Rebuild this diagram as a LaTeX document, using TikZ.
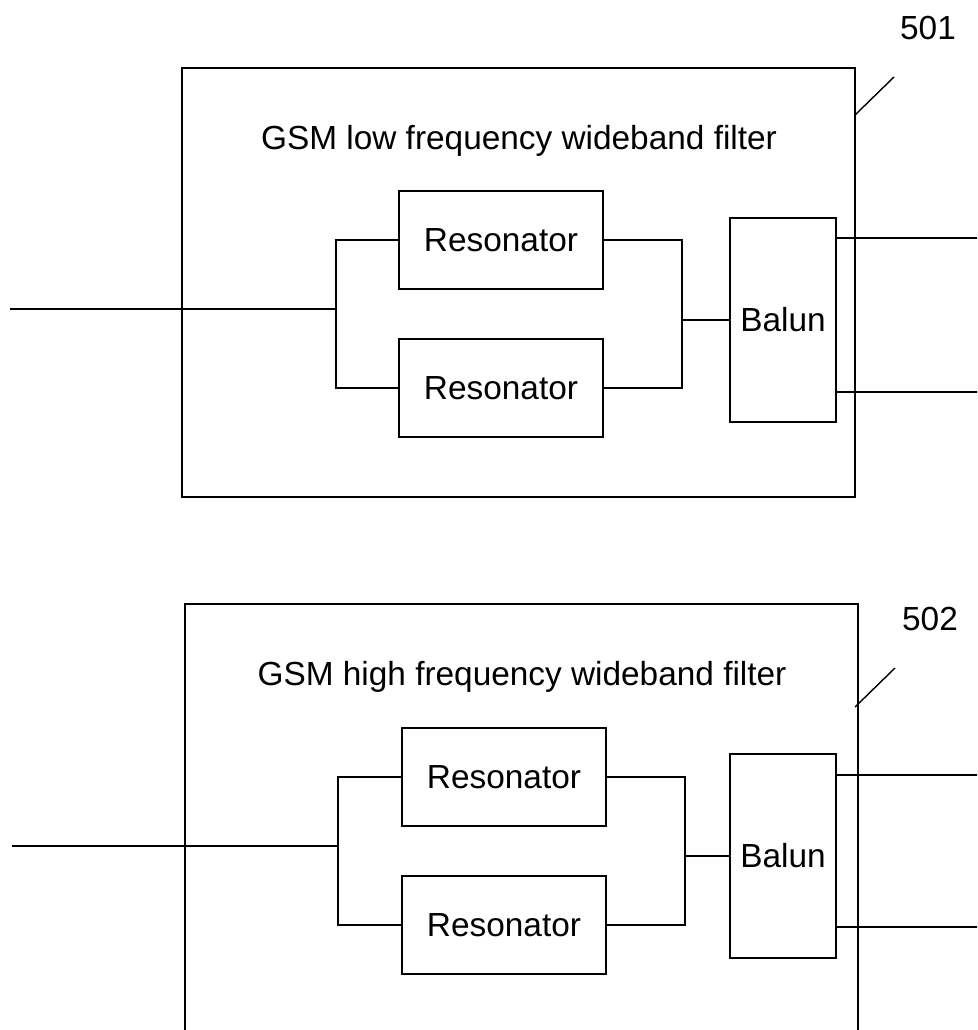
\documentclass[tikz,border=0pt]{standalone}
\usepackage{fontspec}
\setmainfont{Liberation Sans}
\begin{document}
\begin{tikzpicture}[x=0.02cm,y=-0.02cm,line width=1.2pt,font=\fontsize{19}{22}\selectfont,filt/.style={shape=rectangle,draw=black,minimum width=13.46cm,minimum height=8.58cm},reso/.style={shape=rectangle,draw=black,minimum width=4.08cm,minimum height=1.96cm},balun/.style={shape=rectangle,draw=black,minimum width=2.12cm,minimum height=4.08cm},ttl/.style={anchor=base,inner sep=0pt}]
\clip (0,0) rectangle (977,1030);

% low frequency filter
\node[filt] (F1) at (518.5,282.5) {};
\node[ttl] (T1) at (519,150) {GSM low frequency wideband filter};
\node[ttl] (L1) at (928,40) {501};
\coordinate (P1) at (855,115);
\coordinate (Q1) at (894,77);
\draw[line width=0.8pt] (P1) -- (Q1);

\node[reso] (R1a) at (501,240) {Resonator};
\node[reso] (R1b) at (501,388) {Resonator};
\node[balun] (B1) at (783,320) {Balun};

\coordinate (I1) at (10,309);
\coordinate (J1) at (336,309);
\coordinate (K1) at (682,320);
\coordinate (O1a) at (980,238);
\coordinate (O1b) at (980,392);
\draw (I1) -- (J1);
\draw (R1a.west) -| (J1) |- (R1b.west);
\draw (R1a.east) -| (K1) |- (R1b.east);
\draw (K1) -- (B1.west);
\draw (B1.east |- O1a) -- (O1a);
\draw (B1.east |- O1b) -- (O1b);

% high frequency filter
\node[filt] (F2) at (521.5,818.5) {};
\node[ttl] (T2) at (522,685) {GSM high frequency wideband filter};
\node[ttl] (L2) at (930,630) {502};
\coordinate (P2) at (855,707);
\coordinate (Q2) at (895,668);
\draw[line width=0.8pt] (P2) -- (Q2);

\node[reso] (R2a) at (504,777) {Resonator};
\node[reso] (R2b) at (504,925) {Resonator};
\node[balun] (B2) at (783,856) {Balun};

\coordinate (I2) at (12,846);
\coordinate (J2) at (338,846);
\coordinate (K2) at (685,856);
\coordinate (O2a) at (980,775);
\coordinate (O2b) at (980,927);
\draw (I2) -- (J2);
\draw (R2a.west) -| (J2) |- (R2b.west);
\draw (R2a.east) -| (K2) |- (R2b.east);
\draw (K2) -- (B2.west);
\draw (B2.east |- O2a) -- (O2a);
\draw (B2.east |- O2b) -- (O2b);
\end{tikzpicture}
\end{document}
